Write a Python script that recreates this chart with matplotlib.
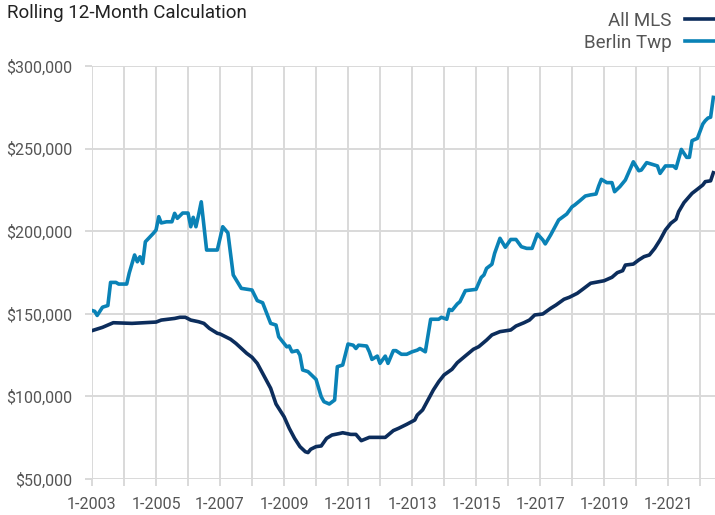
import matplotlib
matplotlib.use("Agg")
import matplotlib.pyplot as plt
import matplotlib.dates as mdates
import matplotlib.ticker as mticker
import pandas as pd

# ── data (month, value) ──────────────────────────────────────────────
all_mls_dates = [
    "2003-01", "2003-05", "2003-09", "2004-04", "2005-01", "2005-03", "2005-08", "2005-10",
    "2005-12", "2006-02", "2006-05", "2006-07", "2006-09", "2006-12", "2007-01", "2007-05",
    "2007-07", "2007-09", "2007-11", "2008-01", "2008-03", "2008-05", "2008-08", "2008-10",
    "2009-01", "2009-03", "2009-05", "2009-07", "2009-09", "2009-10", "2009-11", "2010-01",
    "2010-03", "2010-05", "2010-07", "2010-10", "2010-11", "2011-02", "2011-04", "2011-06",
    "2011-09", "2012-03", "2012-06", "2012-08", "2012-11", "2013-02", "2013-03", "2013-05",
    "2013-07", "2013-09", "2013-11", "2014-01", "2014-04", "2014-06", "2014-09", "2014-12",
    "2015-02", "2015-05", "2015-07", "2015-10", "2016-02", "2016-04", "2016-07", "2016-09",
    "2016-11", "2017-02", "2017-05", "2017-07", "2017-10", "2017-12", "2018-03", "2018-05",
    "2018-08", "2019-01", "2019-04", "2019-06", "2019-08", "2019-09", "2019-12", "2020-02",
    "2020-04", "2020-06", "2020-08", "2020-10", "2020-12", "2021-02", "2021-04", "2021-05",
    "2021-07", "2021-10", "2021-12", "2022-02", "2022-03", "2022-05", "2022-06",
]
all_mls_values = [
    139800, 141800, 144600, 144200, 145000, 146200, 147200, 147900,
    147900, 146200, 145200, 144200, 141200, 138200, 137800, 134600,
    132100, 129100, 126100, 123700, 120000, 114000, 104900, 95400,
    87700, 80700, 74600, 69600, 66500, 66000, 68000, 69600,
    70000, 74600, 76600, 77600, 78000, 77000, 77000, 73200,
    75200, 75200, 79300, 80700, 83100, 85700, 88700, 91800,
    97800, 103900, 108900, 113000, 116400, 120400, 124500, 128500,
    130100, 134100, 137200, 139200, 140200, 142600, 144600, 146200,
    149300, 149900, 153300, 155300, 158800, 160000, 162400, 164800,
    168500, 170000, 172100, 174900, 176100, 179500, 180100, 182600,
    184600, 185600, 189600, 194700, 200700, 204800, 207200, 211800,
    217300, 222900, 225400, 228000, 230000, 230500, 235400,
]

berlin_dates = [
    "2003-01", "2003-02", "2003-03", "2003-05", "2003-07", "2003-08", "2003-10", "2003-11",
    "2004-02", "2004-03", "2004-05", "2004-06", "2004-07", "2004-08", "2004-09", "2004-11",
    "2004-12", "2005-01", "2005-02", "2005-03", "2005-05", "2005-07", "2005-08", "2005-09",
    "2005-11", "2006-01", "2006-02", "2006-03", "2006-04", "2006-05", "2006-06", "2006-08",
    "2006-12", "2007-02", "2007-04", "2007-06", "2007-09", "2008-01", "2008-03", "2008-05",
    "2008-08", "2008-10", "2008-11", "2009-02", "2009-03", "2009-04", "2009-06", "2009-07",
    "2009-08", "2009-10", "2010-01", "2010-03", "2010-04", "2010-06", "2010-08", "2010-09",
    "2010-11", "2011-01", "2011-03", "2011-04", "2011-05", "2011-08", "2011-09", "2011-10",
    "2011-12", "2012-01", "2012-03", "2012-04", "2012-06", "2012-07", "2012-09", "2012-11",
    "2013-01", "2013-03", "2013-04", "2013-06", "2013-08", "2013-11", "2013-12", "2014-02",
    "2014-03", "2014-04", "2014-06", "2014-07", "2014-09", "2015-01", "2015-03", "2015-04",
    "2015-05", "2015-07", "2015-08", "2015-10", "2015-12", "2016-02", "2016-04", "2016-06",
    "2016-08", "2016-10", "2016-12", "2017-02", "2017-03", "2017-05", "2017-07", "2017-08",
    "2017-10", "2017-11", "2018-01", "2018-02", "2018-04", "2018-06", "2018-08", "2018-10",
    "2018-11", "2018-12", "2019-02", "2019-04", "2019-05", "2019-07", "2019-09", "2019-10",
    "2019-12", "2020-02", "2020-03", "2020-05", "2020-09", "2020-10", "2020-12", "2021-03",
    "2021-04", "2021-06", "2021-08", "2021-09", "2021-10", "2021-12", "2022-02", "2022-03",
    "2022-04", "2022-05", "2022-06",
]
berlin_values = [
    152000, 151500, 149000, 154000, 155000, 169000, 169000, 168000,
    168000, 174700, 185600, 181500, 184500, 180500, 193600, 197000,
    198700, 200700, 208800, 205000, 205700, 205700, 210800, 207800,
    211000, 211000, 202700, 208400, 202700, 209800, 217800, 188600,
    188600, 202700, 199000, 173500, 165400, 164400, 158000, 156700,
    144200, 143200, 136100, 130000, 130500, 127000, 127700, 125000,
    116000, 115000, 110300, 99800, 96800, 95400, 97800, 118000,
    119000, 131700, 131000, 129000, 131000, 130500, 127000, 122400,
    124400, 120000, 124400, 120000, 127700, 127700, 125500, 125500,
    127000, 128000, 129000, 127000, 146700, 146700, 147900, 146700,
    152700, 152000, 156000, 157300, 164000, 164800, 172000, 173500,
    177500, 180000, 186600, 195700, 190300, 195000, 195000, 190600,
    189600, 189600, 198300, 194700, 192300, 197700, 203700, 206800,
    209200, 210400, 214800, 215900, 218500, 221300, 222000, 222500,
    227400, 231400, 229400, 229400, 223900, 227000, 231000, 234600,
    242000, 236600, 237000, 241500, 239500, 235000, 239500, 239500,
    238000, 249500, 244700, 244700, 254800, 256200, 264900, 266900,
    268500, 269000, 281000,
]
series_labels = ["All MLS", "Berlin Twp"]
y_ticks = [50000, 100000, 150000, 200000, 250000, 300000]
x_label_years = [2003, 2005, 2007, 2009, 2011, 2013, 2015, 2017, 2019, 2021]
x_grid_years = list(range(2003, 2023))

NAVY = "#0c2d5c"
BLUE = "#0a82b6"
GRID = "#d9d9d9"
TEXT = "#555555"

plt.rcParams["font.family"] = ["Roboto", "DejaVu Sans"]

mls_x = pd.to_datetime(all_mls_dates)
ber_x = pd.to_datetime(berlin_dates)

fig = plt.figure(figsize=(7.15, 5.15), dpi=100)
ax = fig.add_axes([92 / 715, 36 / 515, 623 / 715, 413 / 515])

ax.plot(mls_x, all_mls_values, color=NAVY, lw=2.6, label=series_labels[0],
        solid_joinstyle="round", zorder=3)
ax.plot(ber_x, berlin_values, color=BLUE, lw=2.6, label=series_labels[1],
        solid_joinstyle="round", zorder=3)

ax.set_ylim(50000, 300000)
ax.set_xlim(pd.Timestamp("2003-01-01"), pd.Timestamp("2022-06-20"))
ax.set_yticks(y_ticks)
ax.yaxis.set_major_formatter(mticker.StrMethodFormatter("${x:,.0f}"))

ax.set_xticks([pd.Timestamp(f"{y}-01-01") for y in x_label_years])
ax.set_xticks([pd.Timestamp(f"{y}-01-01") for y in x_grid_years], minor=True)
ax.xaxis.set_major_formatter(mdates.DateFormatter("1-%Y"))

ax.grid(True, which="both", axis="x", color=GRID, lw=1.4, zorder=0)
ax.grid(True, which="major", axis="y", color=GRID, lw=1.4, zorder=0)
for s in ax.spines.values():
    s.set_visible(False)
ax.tick_params(axis="both", which="both", color=GRID, width=1.4, length=5,
               labelcolor=TEXT, labelsize=11.5)
ax.tick_params(axis="y", pad=9)
ax.tick_params(axis="x", pad=8)

fig.text(7 / 715, 1 - 13 / 515, "Rolling 12-Month Calculation", fontsize=13.5,
         color="#222222", va="center", ha="left")

leg = ax.legend(loc="upper right", bbox_to_anchor=(1.0, 1 - 12 / 515),
                bbox_transform=fig.transFigure, frameon=False, markerfirst=False,
                fontsize=13.5, handlelength=1.6, handletextpad=0.7,
                labelspacing=0.2, borderaxespad=0, borderpad=0)
for t in leg.get_texts():
    t.set_color(TEXT)

fig.savefig("out.png", dpi=100)
